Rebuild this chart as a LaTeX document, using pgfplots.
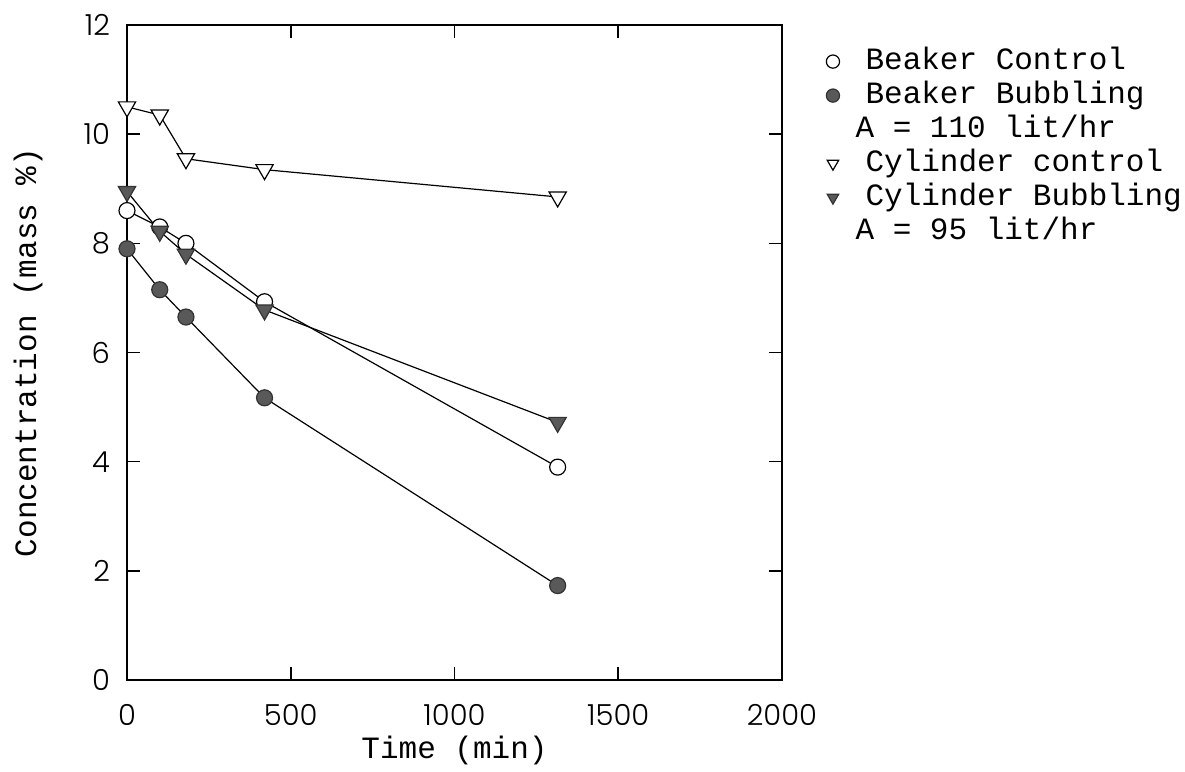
\documentclass[border=0pt]{standalone}
\usepackage{fontspec}
\setmainfont{Liberation Mono}
\newfontfamily\tickfont{Poppins}[UprightFont={* Light}]
\usepackage{pgfplots}
\pgfplotsset{compat=1.18}
\begin{document}
\begin{tikzpicture}
\path[use as bounding box] (-63.5pt,-46pt) rectangle (529pt,340pt);
\begin{axis}[
  at={(0,0)}, anchor=south west,
  scale only axis, width=327.5pt, height=327.5pt,
  xmin=0, xmax=2000, ymin=0, ymax=12,
  xtick={0,500,1000,1500,2000}, ytick={0,2,4,6,8,10,12},
  tick align=inside, major tick length=6.5pt,
  minor tick num=0,
  axis line style={line width=0.8pt},
  every tick/.style={line width=0.8pt, black},
  /pgf/number format/assume math mode=true,
  /pgf/number format/set thousands separator={},
  ticklabel style={font=\tickfont\fontsize{14.5}{14.5}\selectfont},
  yticklabel style={xshift=-5pt},
  xticklabel style={inner sep=0pt, yshift=-12pt},
  xlabel={Time (min)},
  ylabel={Concentration (mass \%)},
  every axis x label/.style={at={(axis description cs:0.5,-0.108)}, anchor=center, inner sep=0pt, font=\fontsize{15.5}{16}\selectfont},
  every axis y label/.style={at={(axis description cs:-0.151,0.5)}, rotate=90, anchor=center, font=\fontsize{15.5}{16}\selectfont},
  legend style={at={(axis description cs:1.055,0.973)}, anchor=north west, draw=none, fill=none,
    font=\fontsize{15.5}{16}\selectfont, row sep=2.5pt,
    nodes={inner sep=0pt, text height=11pt, text depth=3.5pt},
    /tikz/every odd column/.append style={column sep=13pt}},
  legend cell align=left,
  legend image code/.code={\draw[#1, mark size=3.3pt] plot[only marks] coordinates {(0.15cm,0cm)};},
]
\addplot[black, line width=0.6pt, mark=*, mark size=4pt, mark options={fill=white, line width=0.6pt}]
  coordinates {(0,8.6) (100,8.3) (180,8.0) (420,6.93) (1315,3.9)};
\addlegendentry{Beaker Control}
\addplot[black, line width=0.6pt, mark=*, mark size=4pt, mark options={fill=black!65, draw=black!80, line width=0.6pt}]
  coordinates {(0,7.9) (100,7.15) (180,6.65) (420,5.17) (1315,1.73)};
\addlegendentry{Beaker Bubbling}
\addlegendimage{empty legend}
\addlegendentry{\hspace*{-5pt}A = 110 lit/hr}
\addplot[black, line width=0.6pt, mark=triangle*, mark size=5pt, mark options={fill=white, rotate=180, line width=0.6pt}]
  coordinates {(0,10.5) (100,10.35) (180,9.55) (420,9.35) (1315,8.85)};
\addlegendentry{Cylinder control}
\addplot[black, line width=0.6pt, mark=triangle*, mark size=5pt, mark options={fill=black!65, draw=black!80, rotate=180, line width=0.6pt}]
  coordinates {(0,8.95) (100,8.22) (180,7.8) (420,6.78) (1315,4.72)};
\addlegendentry{Cylinder Bubbling}
\addlegendimage{empty legend}
\addlegendentry{\hspace*{-5pt}A = 95 lit/hr}
\end{axis}
\end{tikzpicture}
\end{document}
